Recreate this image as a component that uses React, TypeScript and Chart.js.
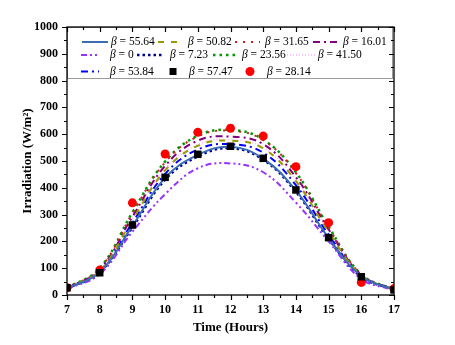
import React, { useEffect, useRef } from "react";
import { Chart, registerables } from "chart.js";

Chart.register(...registerables);

// ---- data ----
const hours = [7, 8, 9, 10, 11, 12, 13, 14, 15, 16, 17];
const betaLabels = ["55.64", "50.82", "31.65", "16.01", "0", "7.23", "23.56", "41.50", "53.84", "57.47", "28.14"];
const beta5564 = [25, 85, 258, 437, 523, 553, 509, 390, 213, 70, 20];
const beta5082 = [25, 90, 280, 465, 557, 576, 547, 425, 235, 73, 20];
const beta3165 = [25, 98, 305, 495, 592, 613, 578, 455, 252, 76, 20];
const beta1601 = [25, 95, 292, 482, 576, 591, 563, 440, 245, 75, 20];
const beta0 = [22, 78, 236, 376, 473, 491, 458, 345, 200, 60, 18];
const beta723 = [24, 85, 252, 430, 517, 548, 505, 385, 210, 68, 20];
const beta2356 = [26, 100, 308, 498, 594, 616, 580, 458, 255, 77, 21];
const beta4150 = [25, 92, 285, 470, 562, 580, 550, 430, 238, 74, 20];
const beta5384 = [25, 88, 270, 452, 543, 563, 531, 410, 225, 72, 20];
const beta5747 = [27, 83, 261, 439, 525, 555, 510, 392, 214, 68, 19];
const beta2814 = [27, 93, 344, 526, 607, 622, 593, 479, 270, 47, 24];

const seriesValues = [beta5564, beta5082, beta3165, beta1601, beta0, beta723, beta2356, beta4150, beta5384, beta5747, beta2814];

// ---- styles ----
type Style = { color: string; dash: number[]; width: number; marker?: "rect" | "circle"; markerSize?: number };
const styles: Style[] = [
  { color: "#3b6db5", dash: [], width: 2 },
  { color: "#999900", dash: [6, 7], width: 2 },
  { color: "#cc2222", dash: [2, 6], width: 2 },
  { color: "#800080", dash: [7, 4, 2, 4], width: 2 },
  { color: "#9933ff", dash: [6, 3, 2, 3, 2, 3], width: 2 },
  { color: "#000099", dash: [2.5, 3], width: 2.5 },
  { color: "#009900", dash: [2.5, 4], width: 2.5 },
  { color: "#ffb0ff", dash: [1, 2], width: 1.5 },
  { color: "#0000ff", dash: [7, 4, 2, 4], width: 2 },
  { color: "#000000", dash: [], width: 0, marker: "rect", markerSize: 5.3 },
  { color: "#ff0000", dash: [], width: 0, marker: "circle", markerSize: 4.5 },
];

// legend layout: [dataset index, sample x, sample width, text x, row y]
const legendLayout: [number, number, number, number, number][] = [
  [0, 82, 26, 111, 42],
  [1, 158, 25, 188, 42],
  [2, 235, 25, 265, 42],
  [3, 313, 25, 343, 42],
  [4, 81, 17, 110, 55],
  [5, 137, 27, 170, 55],
  [6, 213, 26, 242, 55],
  [7, 287, 30, 318, 55],
  [8, 81, 18, 110, 71.5],
  [9, 173, 0, 189, 71.5],
  [10, 250, 0, 267, 71.5],
];

const FONT = "'Liberation Serif', 'Times New Roman', serif";

const legendPlugin = {
  id: "boxLegend",
  afterDatasetsDraw(chart: any) {
    const { ctx, chartArea: a } = chart;
    ctx.save();
    ctx.fillStyle = "#fff";
    ctx.fillRect(a.left, a.top, 392 - a.left, 78 - a.top);
    ctx.strokeStyle = "#9a9a9a";
    ctx.lineWidth = 1;
    ctx.strokeRect(a.left + 0.5, a.top + 0.5, 392 - a.left, 78 - a.top);
    for (const [i, sx, sw, tx, ry] of legendLayout) {
      const st = styles[i];
      if (st.marker) {
        ctx.fillStyle = st.color;
        if (st.marker === "rect") {
          ctx.fillRect(sx - 3.5, ry - 3.5, 7, 7);
        } else {
          ctx.beginPath();
          ctx.arc(sx, ry, 4.5, 0, Math.PI * 2);
          ctx.fill();
        }
      } else {
        ctx.strokeStyle = st.color;
        ctx.lineWidth = st.width;
        ctx.setLineDash(st.dash);
        ctx.beginPath();
        ctx.moveTo(sx, ry);
        ctx.lineTo(sx + sw, ry);
        ctx.stroke();
        ctx.setLineDash([]);
      }
      ctx.fillStyle = "#000";
      ctx.textBaseline = "middle";
      ctx.textAlign = "left";
      ctx.font = `italic 11.5px ${FONT}`;
      ctx.fillText("β", tx, ry);
      const w = ctx.measureText("β").width;
      ctx.font = `11.5px ${FONT}`;
      ctx.fillText(" = " + betaLabels[i], tx + w, ry);
    }
    ctx.restore();
  },
};

const framePlugin = {
  id: "frame",
  afterDraw(chart: any) {
    const { ctx, chartArea: a, scales } = chart;
    const x = scales.x;
    const y = scales.y;
    ctx.save();
    ctx.strokeStyle = "#000";
    ctx.lineWidth = 1.3;
    ctx.strokeRect(a.left, a.top, a.right - a.left, a.bottom - a.top);
    ctx.lineWidth = 1.2;
    ctx.beginPath();
    for (let k = 0; k <= 20; k++) {
      const v = 7 + k * 0.5;
      const px = Math.round(x.getPixelForValue(v)) + 0.5;
      const L = k % 2 === 0 ? 5 : 3;
      ctx.moveTo(px, a.bottom);
      ctx.lineTo(px, a.bottom + L);
      ctx.moveTo(px, a.top);
      ctx.lineTo(px, a.top + L);
    }
    for (let k = 0; k <= 20; k++) {
      const v = k * 50;
      const py = Math.round(y.getPixelForValue(v)) + 0.5;
      const L = k % 2 === 0 ? 5 : 3;
      ctx.moveTo(a.left, py);
      ctx.lineTo(a.left - L, py);
      ctx.moveTo(a.right, py);
      ctx.lineTo(a.right - L, py);
    }
    ctx.stroke();
    ctx.restore();
  },
};

export default function App() {
  const ref = useRef<HTMLCanvasElement | null>(null);

  useEffect(() => {
    document.body.style.margin = "0";
    const canvas = ref.current;
    if (!canvas) return;
    const datasets = seriesValues.map((vals, i) => {
      const st = styles[i];
      const isMarker = !!st.marker;
      return {
        label: "β = " + betaLabels[i],
        data: hours.map((h, j) => ({ x: h, y: vals[j] })),
        borderColor: st.color,
        backgroundColor: st.color,
        borderWidth: st.width,
        borderDash: st.dash,
        showLine: !isMarker,
        pointRadius: isMarker ? st.markerSize : 0,
        pointStyle: st.marker === "rect" ? "rect" : "circle",
        pointBorderWidth: 0,
        tension: 0.4,
        fill: false,
        order: isMarker ? 0 : i === 0 ? 1 : 2,
      };
    });

    const chart = new Chart(canvas, {
      type: "line",
      data: { datasets },
      plugins: [legendPlugin, framePlugin],
      options: {
        animation: false,
        responsive: false,
        events: [],
        layout: { padding: { top: 27, right: 61, left: 0, bottom: 0 } },
        plugins: { legend: { display: false }, tooltip: { enabled: false } },
        scales: {
          x: {
            type: "linear",
            min: 7,
            max: 17,
            grid: { display: false, drawTicks: false },
            border: { display: false },
            afterFit: (s: any) => {
              s.height = 50;
            },
            ticks: {
              stepSize: 1,
              padding: 8,
              color: "#000",
              maxRotation: 0,
              callback: (v: any) => String(v),
              font: { family: FONT, size: 12, weight: "bold" },
            },
            title: {
              display: true,
              text: "Time (Hours)",
              color: "#000",
              font: { family: FONT, size: 13, weight: "bold" },
              padding: { top: 0, bottom: 10 },
            },
          },
          y: {
            type: "linear",
            min: 0,
            max: 1000,
            grid: { display: false, drawTicks: false },
            border: { display: false },
            afterFit: (s: any) => {
              s.width = 67;
            },
            ticks: {
              stepSize: 100,
              padding: 9,
              color: "#000",
              callback: (v: any) => String(v),
              font: { family: FONT, size: 12, weight: "bold" },
            },
            title: {
              display: true,
              text: "Irradiation (W/m²)",
              color: "#000",
              font: { family: FONT, size: 13, weight: "bold" },
              padding: { top: 20, bottom: 0 },
            },
          },
        },
      } as any,
    });
    return () => chart.destroy();
  }, []);

  return (
    <div style={{ width: 455, height: 345, background: "#fff" }}>
      <canvas ref={ref} width={455} height={345} />
    </div>
  );
}
